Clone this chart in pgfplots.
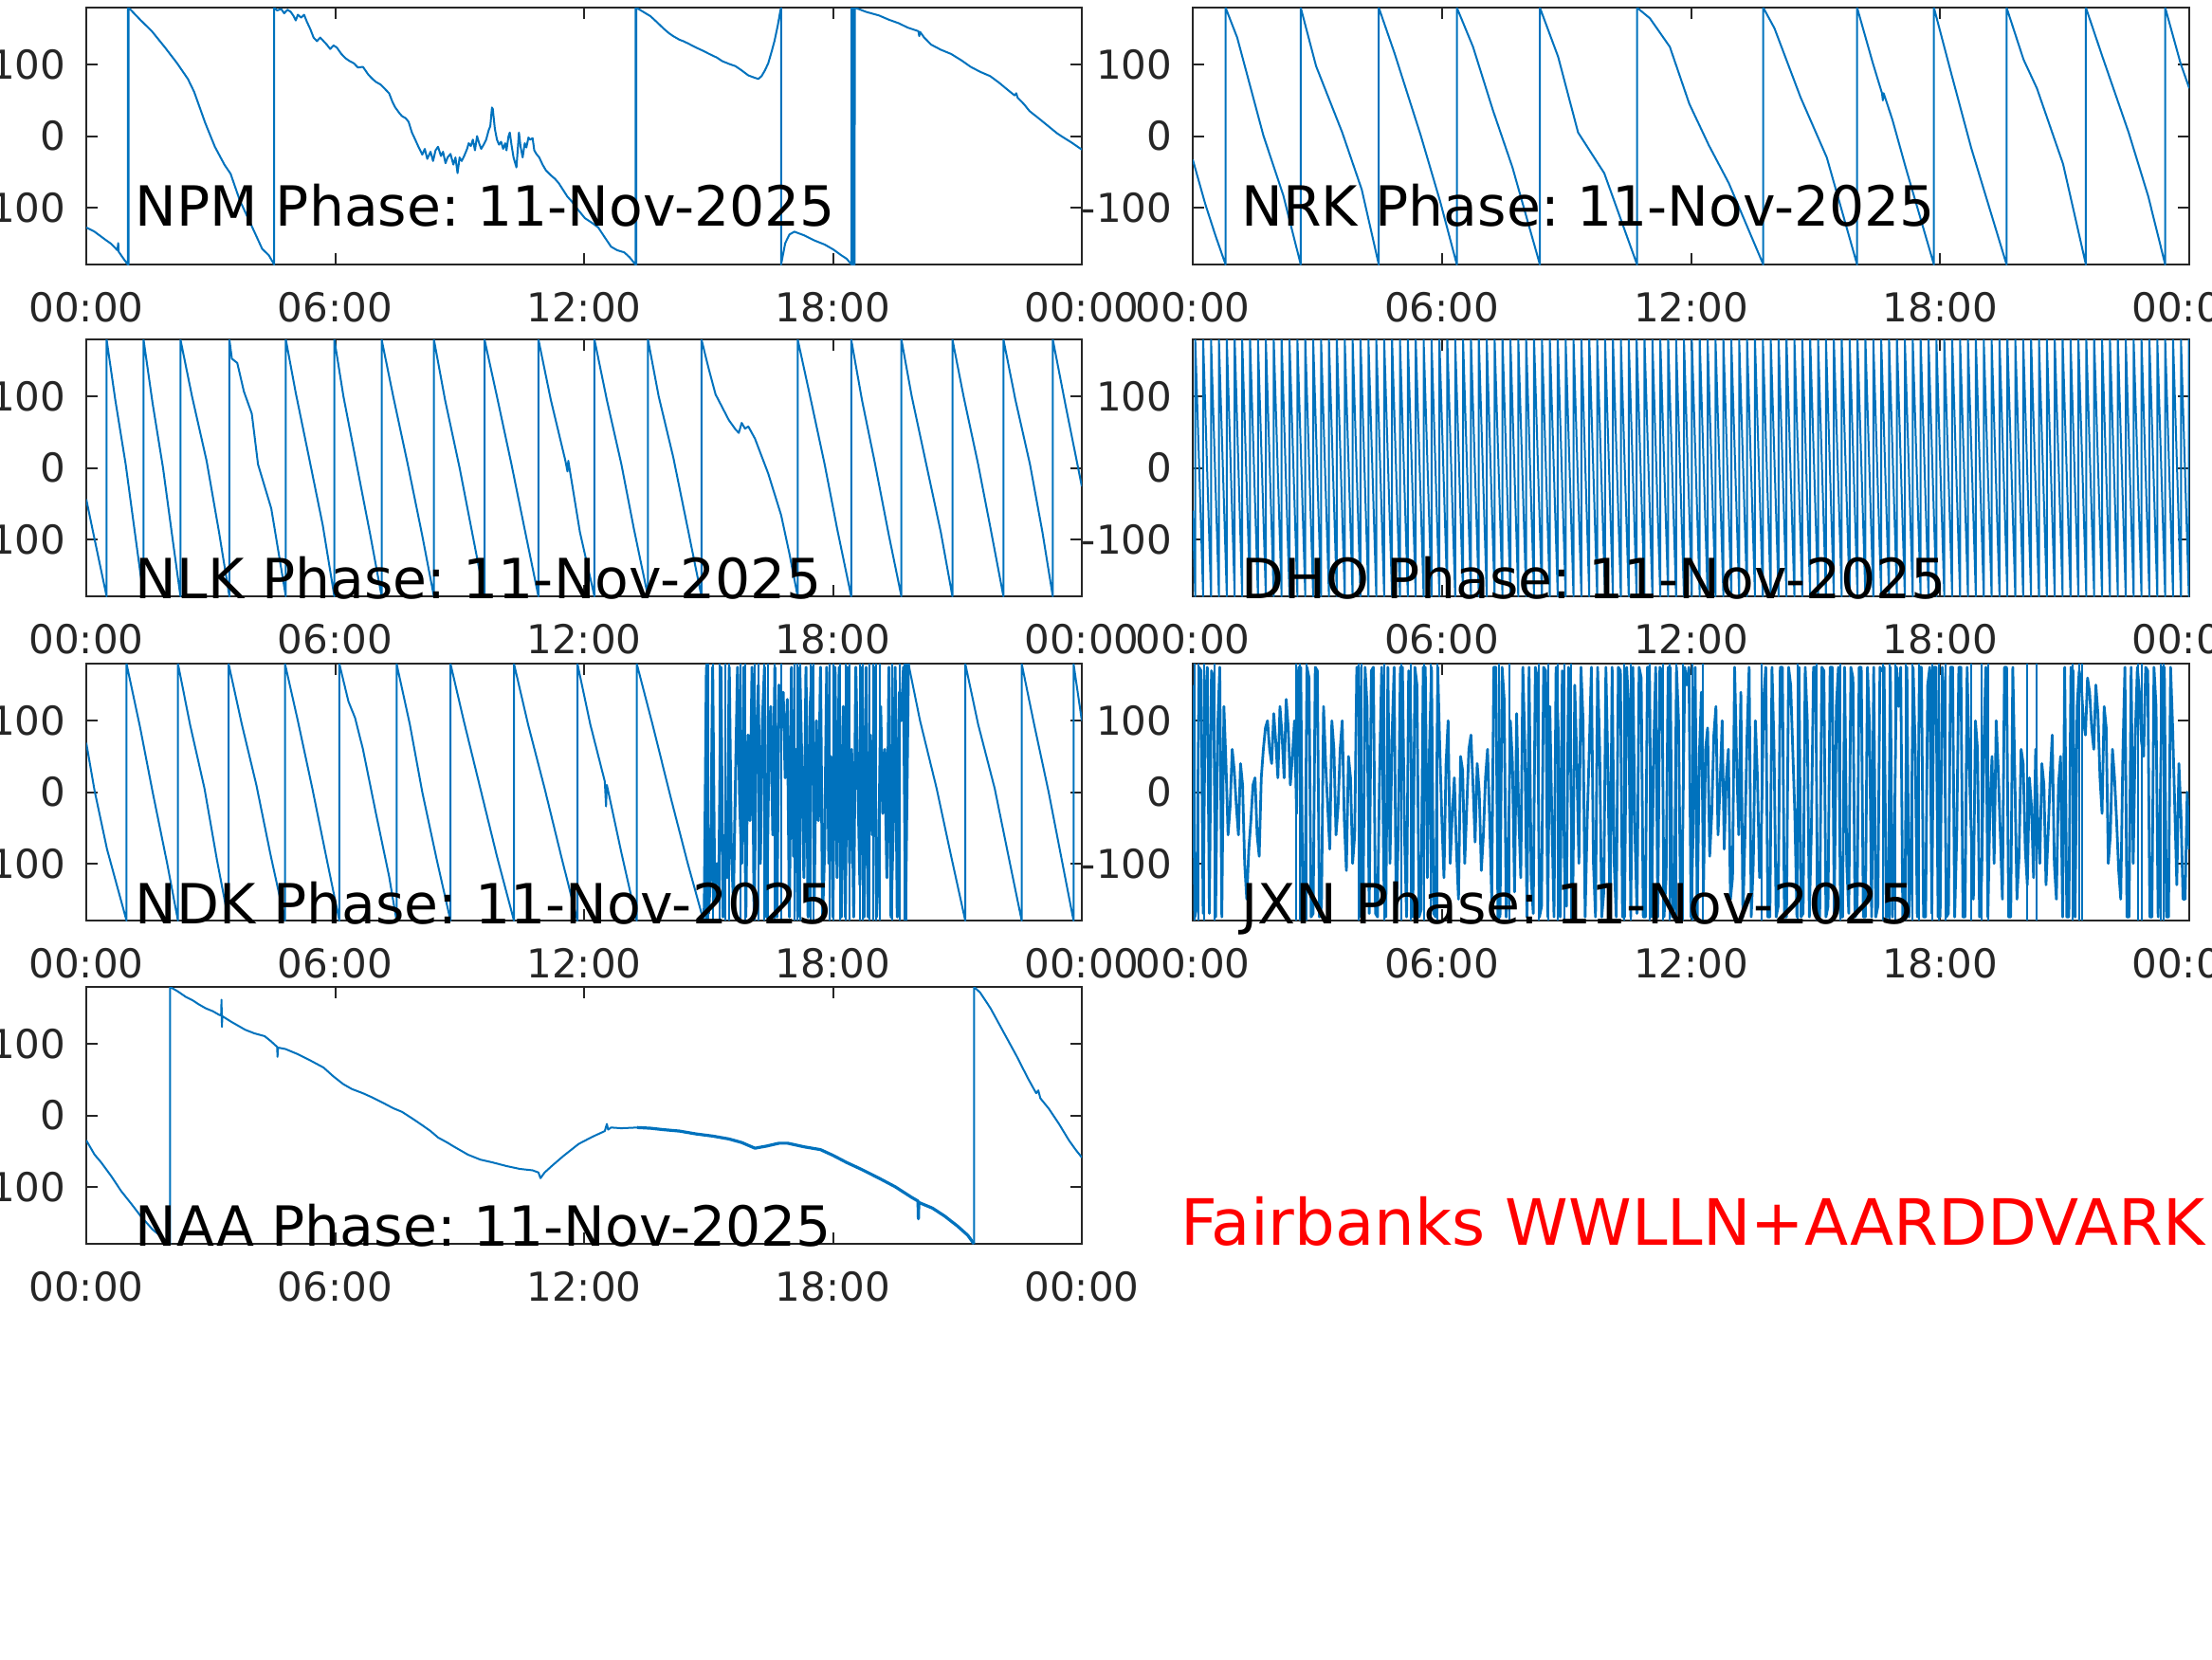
\documentclass[border=0pt]{standalone}
\usepackage{fontspec}
\setmainfont{DejaVu Sans}
\usepackage{pgfplots}
\pgfplotsset{compat=1.18}
\frenchspacing
\definecolor{mblue}{rgb}{0,0.447,0.741}
\definecolor{mgray}{rgb}{0.15,0.15,0.15}
\tikzset{ttl/.style={anchor=base west, inner sep=0pt, font=\fontsize{14.6}{17}\selectfont, text=black}}
\pgfplotsset{
 phase/.style={
  scale only axis, height=67.75pt, anchor=north west,
  xmin=0, xmax=24, ymin=-180, ymax=180,
  xtick={0,6,12,18,24}, xticklabels={00:00,06:00,12:00,18:00,00:00},
  ytick={-100,0,100}, yticklabels={-100,0,100},
  minor tick num=0,
  tick align=inside, major tick length=3pt,
  axis line style={mgray, line width=0.5pt},
  every tick/.style={mgray, line width=0.5pt},
  tick label style={font=\fontsize{10.5}{12}\selectfont, text=mgray},
  xticklabel style={anchor=north, inner sep=0pt, yshift=-7.25pt},
  yticklabel style={anchor=east, inner sep=0pt, xshift=-5.25pt},
  clip mode=individual,
 },
 lcol/.style={phase, width=262.5pt},
 rcol/.style={phase, width=262.75pt},
 ph/.style={mblue, line width=0.5pt, mark=none, line join=round},
 wr/.style={mblue, line width=0.5pt, mark=none, unbounded coords=jump},
}
\begin{document}
\begin{tikzpicture}
\useasboundingbox (0,0) rectangle (583.25pt,-437.5pt);
\clip (0,0) rectangle (583.25pt,-437.5pt);

% ---------------- NPM ----------------
\begin{axis}[lcol, at={(22.75pt,-2pt)}]
\addplot[ph] coordinates {
(0,-128)(0.2,-134)(0.43,-144)(0.6,-151)(0.75,-160)(0.77,-150)(0.78,-162)(0.9,-172)(1.0,-180)(1.0,180)(1.02,-180)(1.02,180)
(1.3,163)(1.58,147)(1.9,124)(2.19,102)(2.45,80)(2.6,62)(2.87,18)(3.1,-15)(3.33,-40)(3.48,-53)(3.7,-90)(3.94,-120)(4.24,-158)(4.4,-167)(4.53,-180)(4.53,180)
(4.6,176)(4.7,178)(4.77,172)(4.85,177)(4.93,174)(5.0,168)(5.05,162)(5.1,170)(5.18,166)(5.25,170)(5.32,160)(5.4,150)(5.48,138)(5.56,133)(5.64,138)(5.72,133)(5.8,128)(5.88,122)(5.96,127)(6.04,124)(6.15,115)(6.25,109)(6.35,105)(6.45,102)(6.55,96)(6.67,97)(6.8,86)(6.9,80)(6.98,76)(7.1,72)(7.2,66)(7.3,60)(7.38,48)(7.45,40)(7.55,32)(7.61,28)(7.7,25)(7.77,20)(7.85,5)(7.93,-5)(8.0,-14)(8.05,-20)(8.1,-26)(8.16,-18)(8.22,-32)(8.3,-22)(8.36,-35)(8.42,-20)(8.48,-15)(8.55,-28)(8.6,-22)(8.66,-38)(8.71,-30)(8.78,-25)(8.85,-40)(8.9,-30)(8.95,-52)(9.0,-30)(9.05,-35)(9.11,-28)(9.18,-18)(9.22,-10)(9.27,-14)(9.32,-5)(9.37,-20)(9.42,0)(9.47,-10)(9.52,-18)(9.58,-12)(9.64,-5)(9.7,8)(9.74,14)(9.78,40)(9.8,38)(9.85,10)(9.9,-5)(9.95,-12)(10.0,-8)(10.05,-18)(10.1,-10)(10.13,-20)(10.18,0)(10.21,5)(10.25,-12)(10.3,-30)(10.37,-44)(10.4,-20)(10.43,5)(10.47,-15)(10.52,-30)(10.57,-10)(10.61,-16)(10.66,-2)(10.7,-5)(10.76,-3)(10.8,-20)(10.85,-25)(10.92,-30)(11.0,-40)(11.08,-48)(11.2,-55)(11.3,-60)(11.39,-66)(11.5,-76)(11.6,-85)(11.71,-92)(11.85,-103)(12.02,-115)(12.2,-122)(12.34,-128)(12.5,-142)(12.65,-155)(12.8,-160)(12.97,-163)(13.1,-170)(13.24,-180)(13.24,180)(13.26,-180)(13.26,180)
(13.4,175)(13.6,168)(13.75,160)(13.91,151)(14.05,144)(14.15,140)(14.3,135)(14.39,133)(14.5,130)(14.7,124)(14.85,120)(15.02,115)(15.2,110)(15.33,105)(15.5,101)(15.65,98)(15.8,92)(15.96,85)(16.1,82)(16.2,80)(16.28,84)(16.36,92)(16.44,102)(16.52,118)(16.59,133)(16.67,155)(16.73,175)(16.75,180)(16.75,-180)
(16.85,-150)(16.95,-138)(17.07,-134)(17.3,-139)(17.54,-146)(17.8,-152)(18.01,-159)(18.2,-167)(18.33,-172)(18.45,-180)(18.45,180)(18.46,-180)(18.47,180)(18.48,-180)(18.49,180)(18.5,-180)(18.51,180)(18.52,-180)(18.53,180)
(18.8,174)(19.11,169)(19.35,163)(19.59,158)(19.8,152)(20.06,147)(20.08,140)(20.1,146)(20.2,138)(20.37,128)(20.6,121)(20.85,115)(21.1,106)(21.32,97)(21.55,90)(21.79,84)(22.0,75)(22.27,62)(22.38,57)(22.42,60)(22.45,54)(22.6,45)(22.74,35)(23.0,23)(23.21,13)(23.4,4)(23.53,-1)(23.75,-9)(23.9,-15)(24,-19)
};
\node[ttl] at (axis cs:1.17,-126) {NPM Phase: 11-Nov-2025};
\end{axis}

% ---------------- NRK ----------------
\begin{axis}[rcol, at={(314.5pt,-2pt)}]
\addplot[ph] coordinates {
(0,-33)(0.3,-95)(0.55,-140)(0.79,-180)(0.79,180)(1.07,138)(1.70,1)(2.18,-83)(2.60,-180)(2.60,180)(2.97,98)(3.60,5)(4.07,-75)(4.48,-180)(4.48,180)(4.86,116)(5.49,1)(5.96,-92)(6.36,-180)(6.36,180)(6.75,125)(7.23,36)(7.70,-44)(8.36,-180)(8.36,180)(8.80,111)(9.28,5)(9.91,-52)(10.70,-180)(10.70,180)(11.01,165)(11.49,125)(11.96,45)(12.43,-13)(12.91,-66)(13.74,-180)(13.74,180)(14.01,151)(14.64,54)(15.27,-30)(16.0,-180)(16.0,180)(16.38,102)(16.6,60)(16.62,50)(16.64,60)(16.85,23)(17.17,-44)(17.85,-180)(17.85,180)(18.28,85)(18.75,-17)(19.60,-180)(19.60,180)(20.01,107)(20.33,67)(20.96,-39)(21.51,-180)(21.51,180)(21.91,111)(22.54,5)(23.01,-84)(23.42,-180)(23.42,180)(23.79,102)(24,67)
};
\node[ttl] at (axis cs:1.16,-126) {NRK Phase: 11-Nov-2025};
\end{axis}

% ---------------- NLK ----------------
\begin{axis}[lcol, at={(22.75pt,-89.5pt)}]
\addplot[ph] coordinates {
(0,-44)(0.2,-100)(0.49,-180)(0.49,180)(0.7,95)(0.95,5)(1.17,-90)(1.38,-180)(1.38,180)(1.6,90)(1.85,0)(2.07,-95)(2.27,-180)(2.27,180)(2.55,100)(2.9,10)(3.2,-90)(3.45,-180)(3.45,180)(3.51,153)(3.64,147)(3.80,107)(3.99,76)(4.14,5)(4.46,-57)(4.81,-180)(4.81,180)(5.05,105)(5.35,20)(5.7,-80)(5.98,-180)(5.98,180)(6.2,100)(6.5,10)(6.85,-95)(7.12,-180)(7.12,180)(7.4,100)(7.75,5)(8.1,-95)(8.38,-180)(8.38,180)(8.65,95)(9.0,0)(9.3,-90)(9.60,-180)(9.60,180)(9.9,100)(10.25,5)(10.6,-95)(10.90,-180)(10.90,180)(11.2,95)(11.55,10)(11.6,-5)(11.62,10)(11.9,-90)(12.25,-180)(12.25,180)(12.55,95)(12.9,5)(13.2,-85)(13.54,-180)(13.54,180)(13.8,100)(14.15,15)(14.5,-85)(14.83,-180)(14.83,180)(15.0,140)(15.17,103)(15.49,67)(15.65,54)(15.73,49)(15.8,63)(15.88,55)(15.96,58)(16.12,41)(16.44,-8)(16.75,-66)(16.95,-120)(17.15,-180)(17.15,180)(17.45,100)(17.8,5)(18.1,-85)(18.44,-180)(18.44,180)(18.7,95)(19.0,10)(19.35,-95)(19.65,-180)(19.65,180)(19.9,100)(20.25,5)(20.6,-90)(20.88,-180)(20.88,180)(21.15,100)(21.5,5)(21.8,-85)(22.11,-180)(22.11,180)(22.4,95)(22.75,5)(23.05,-90)(23.30,-180)(23.30,180)(23.6,90)(24,-26)
};
\node[ttl] at (axis cs:1.17,-183) {NLK Phase: 11-Nov-2025};
\end{axis}

% ---------------- DHO ----------------
\begin{axis}[rcol, at={(314.5pt,-89.5pt)}]
\addplot[ph] coordinates {
(0,-60)
(0.06,-180)(0.06,180)(0.25,-180)(0.25,180)(0.44,-180)(0.44,180)(0.63,-180)(0.63,180)(0.82,-180)(0.82,180)(1.01,-180)(1.01,180)(1.19,-180)(1.19,180)(1.38,-180)(1.38,180)(1.57,-180)(1.57,180)(1.76,-180)(1.76,180)
(1.95,-180)(1.95,180)(2.14,-180)(2.14,180)(2.33,-180)(2.33,180)(2.52,-180)(2.52,180)(2.71,-180)(2.71,180)(2.90,-180)(2.90,180)(3.09,-180)(3.09,180)(3.28,-180)(3.28,180)(3.47,-180)(3.47,180)(3.66,-180)(3.66,180)
(3.85,-180)(3.85,180)(4.04,-180)(4.04,180)(4.23,-180)(4.23,180)(4.42,-180)(4.42,180)(4.61,-180)(4.61,180)(4.80,-180)(4.80,180)(4.99,-180)(4.99,180)(5.18,-180)(5.18,180)(5.37,-180)(5.37,180)(5.56,-180)(5.56,180)
(5.75,-180)(5.75,180)(5.94,-180)(5.94,180)(6.13,-180)(6.13,180)(6.32,-180)(6.32,180)(6.51,-180)(6.51,180)(6.70,-180)(6.70,180)(6.89,-180)(6.89,180)(7.08,-180)(7.08,180)(7.27,-180)(7.27,180)(7.46,-180)(7.46,180)
(7.65,-180)(7.65,180)(7.84,-180)(7.84,180)(8.03,-180)(8.03,180)(8.22,-180)(8.22,180)(8.41,-180)(8.41,180)(8.60,-180)(8.60,180)(8.79,-180)(8.79,180)(8.98,-180)(8.98,180)(9.17,-180)(9.17,180)(9.36,-180)(9.36,180)
(9.55,-180)(9.55,180)(9.74,-180)(9.74,180)(9.93,-180)(9.93,180)(10.12,-180)(10.12,180)(10.31,-180)(10.31,180)(10.50,-180)(10.50,180)(10.69,-180)(10.69,180)(10.88,-180)(10.88,180)(11.07,-180)(11.07,180)(11.26,-180)(11.26,180)
(11.45,-180)(11.45,180)(11.64,-180)(11.64,180)(11.83,-180)(11.83,180)(12.02,-180)(12.02,180)(12.21,-180)(12.21,180)(12.40,-180)(12.40,180)(12.59,-180)(12.59,180)(12.78,-180)(12.78,180)(12.97,-180)(12.97,180)(13.16,-180)(13.16,180)
(13.35,-180)(13.35,180)(13.54,-180)(13.54,180)(13.73,-180)(13.73,180)(13.92,-180)(13.92,180)(14.11,-180)(14.11,180)(14.30,-180)(14.30,180)(14.49,-180)(14.49,180)(14.68,-180)(14.68,180)(14.87,-180)(14.87,180)(15.06,-180)(15.06,180)
(15.25,-180)(15.25,180)(15.44,-180)(15.44,180)(15.63,-180)(15.63,180)(15.82,-180)(15.82,180)(16.01,-180)(16.01,180)(16.20,-180)(16.20,180)(16.39,-180)(16.39,180)(16.58,-180)(16.58,180)(16.77,-180)(16.77,180)(16.96,-180)(16.96,180)
(17.15,-180)(17.15,180)(17.34,-180)(17.34,180)(17.53,-180)(17.53,180)(17.72,-180)(17.72,180)(17.91,-180)(17.91,180)(18.10,-180)(18.10,180)(18.29,-180)(18.29,180)(18.48,-180)(18.48,180)(18.67,-180)(18.67,180)(18.86,-180)(18.86,180)
(19.05,-180)(19.05,180)(19.24,-180)(19.24,180)(19.43,-180)(19.43,180)(19.62,-180)(19.62,180)(19.81,-180)(19.81,180)(20.00,-180)(20.00,180)(20.19,-180)(20.19,180)(20.38,-180)(20.38,180)(20.57,-180)(20.57,180)(20.76,-180)(20.76,180)
(20.95,-180)(20.95,180)(21.14,-180)(21.14,180)(21.33,-180)(21.33,180)(21.52,-180)(21.52,180)(21.71,-180)(21.71,180)(21.90,-180)(21.90,180)(22.09,-180)(22.09,180)(22.28,-180)(22.28,180)(22.47,-180)(22.47,180)(22.66,-180)(22.66,180)
(22.85,-180)(22.85,180)(23.04,-180)(23.04,180)(23.23,-180)(23.23,180)(23.42,-180)(23.42,180)(23.61,-180)(23.61,180)(23.80,-180)(23.80,180)(23.99,-180)(23.99,180)(24,170)
};
\node[ttl] at (axis cs:1.16,-183) {DHO Phase: 11-Nov-2025};
\end{axis}

% ---------------- NDK ----------------
\begin{axis}[lcol, at={(22.75pt,-175pt)}]
\addplot[ph] coordinates {
(0,69)(0.2,2)(0.5,-80)(0.97,-180)(0.97,180)(1.3,90)(1.6,0)(1.95,-100)(2.21,-180)(2.21,180)(2.5,95)(2.85,5)(3.15,-95)(3.43,-180)(3.43,180)(3.75,95)(4.1,10)(4.45,-90)(4.79,-180)(4.79,180)(5.1,100)(5.45,5)(5.8,-95)(6.10,-180)(6.10,180)(6.32,127)(6.48,104)(6.67,60)(6.98,-29)(7.30,-118)(7.48,-180)(7.48,180)(7.8,95)(8.1,0)(8.45,-95)(8.78,-180)(8.78,180)(9.1,100)(9.5,5)(9.9,-90)(10.31,-180)(10.31,180)(10.65,95)(11.05,5)(11.45,-90)(11.84,-180)(11.84,180)(12.15,95)(12.5,15)(12.53,-20)(12.55,10)(12.9,-85)(13.27,-180)(13.27,180)(13.65,95)(14.1,-10)(14.5,-100)(14.88,-180)
};
\addplot[ph, line width=0.75pt] coordinates {
(14.88,-180)(14.90,-160)(14.95,175)(15.00,-170)(15.05,-120)(15.10,175)(15.15,-150)(15.20,-100)(15.25,-130)(15.30,175)(15.35,-175)(15.40,-60)(15.45,-120)(15.50,175)(15.55,-80)(15.60,-150)(15.70,175)(15.75,-10)(15.80,-100)(15.85,175)(15.90,-175)(15.95,80)(16.00,-40)(16.05,175)(16.10,-175)(16.15,60)(16.20,150)(16.25,-100)(16.30,100)(16.35,175)(16.40,-175)(16.45,30)(16.50,120)(16.55,-60)(16.60,175)(16.65,-175)(16.70,150)(16.75,90)(16.80,140)(16.85,20)(16.90,130)(16.95,-175)(17.00,175)(17.05,-90)(17.10,60)(17.15,-175)(17.20,175)(17.25,40)(17.30,-120)(17.35,175)(17.40,-175)(17.45,120)(17.50,175)(17.55,-150)(17.60,100)(17.65,-40)(17.70,175)(17.75,-175)(17.80,-80)(17.85,175)(17.90,-100)(17.95,50)(18.00,-175)(18.05,175)(18.10,-120)(18.15,175)(18.20,-175)(18.25,120)(18.30,-175)(18.35,175)(18.40,-100)(18.45,60)(18.50,-175)(18.55,175)(18.60,20)(18.65,-130)(18.70,175)(18.75,-175)(18.80,175)(18.85,-175)(18.90,80)(18.95,-60)(19.00,175)(19.05,-175)(19.10,-100)(19.15,120)(19.20,-30)(19.25,60)(19.30,-120)(19.35,175)(19.40,-175)(19.45,-60)(19.50,175)(19.55,-175)(19.60,140)(19.65,100)(19.70,175)(19.75,-175)(19.82,180)
};
\addplot[ph] coordinates {
(19.82,180)(20.1,100)(20.5,5)(20.85,-90)(21.19,-180)(21.19,180)(21.5,95)(21.9,5)(22.25,-95)(22.55,-180)(22.55,180)(22.85,95)(23.2,0)(23.5,-90)(23.80,-180)(23.80,180)(24,100)
};
\addplot[wr] coordinates {
(14.94,-180)(14.94,180)(14.94,nan)(14.99,-180)(14.99,180)(14.99,nan)(15.10,-180)(15.10,180)(15.10,nan)(15.26,-180)(15.26,180)(15.26,nan)(15.41,-180)(15.41,180)(15.41,nan)(15.49,-180)(15.49,180)(15.49,nan)(15.77,-180)(15.77,180)(15.77,nan)(15.88,-180)(15.88,180)(15.88,nan)(16.12,-180)(16.12,180)(16.12,nan)(16.20,-180)(16.20,180)(16.20,nan)(16.35,-180)(16.35,180)(16.35,nan)(16.43,-180)(16.43,180)(16.43,nan)(16.59,-180)(16.59,180)(16.59,nan)(16.75,-180)(16.75,180)(16.75,nan)(17.07,-180)(17.07,180)(17.07,nan)(17.14,-180)(17.14,180)(17.14,nan)(17.22,-180)(17.22,180)(17.22,nan)(17.46,-180)(17.46,180)(17.46,nan)(17.54,-180)(17.54,180)(17.54,nan)(17.93,-180)(17.93,180)(17.93,nan)(18.01,-180)(18.01,180)(18.01,nan)(18.17,-180)(18.17,180)(18.17,nan)(18.30,-180)(18.30,180)(18.30,nan)(18.41,-180)(18.41,180)(18.41,nan)(18.64,-180)(18.64,180)(18.64,nan)(18.72,-180)(18.72,180)(18.72,nan)(18.88,-180)(18.88,180)(18.88,nan)(18.96,-180)(18.96,180)(18.96,nan)(19.04,-180)(19.04,180)(19.04,nan)(19.12,-180)(19.12,180)(19.12,nan)(19.43,-180)(19.43,180)(19.43,nan)(19.62,-180)(19.62,180)(19.62,nan)(19.72,-180)(19.72,180)(19.72,nan)(19.78,-180)(19.78,180)
};
\node[ttl] at (axis cs:1.17,-184) {NDK Phase: 11-Nov-2025};
\end{axis}

% ---------------- JXN ----------------
\begin{axis}[rcol, at={(314.5pt,-175pt)}]
\addplot[ph, line width=0.7pt] coordinates {
(0.00,150)(0.05,-175)(0.10,-160)(0.15,175)(0.20,170)(0.25,-170)(0.30,120)(0.35,175)(0.40,-170)(0.45,170)(0.50,160)(0.55,-175)(0.60,90)(0.65,175)(0.70,-175)(0.75,120)(0.80,40)(0.85,-60)(0.90,-20)(0.95,60)
(1.00,30)(1.05,-20)(1.10,-60)(1.15,40)(1.20,10)(1.25,-100)(1.30,-150)(1.35,-80)(1.40,-40)(1.45,10)(1.50,20)(1.55,-60)(1.60,-90)(1.65,20)(1.70,60)(1.75,90)(1.80,100)(1.85,60)(1.90,40)(1.95,110)
(2.00,70)(2.05,20)(2.10,120)(2.15,80)(2.20,20)(2.25,130)(2.30,90)(2.35,10)(2.40,50)(2.45,100)(2.50,-30)(2.55,175)(2.60,175)(2.65,-170)(2.70,-175)(2.75,175)(2.80,160)(2.85,-175)(2.90,-170)(2.95,175)
(3.00,170)(3.05,-175)(3.10,-160)(3.15,120)(3.20,40)(3.25,-20)(3.30,-80)(3.35,100)(3.40,60)(3.45,-60)(3.50,-20)(3.55,60)(3.60,100)(3.65,-40)(3.70,-110)(3.75,50)(3.80,20)(3.85,-100)(3.90,-60)(3.95,175)
(4.00,175)(4.05,-175)(4.10,-175)(4.15,175)(4.20,120)(4.25,-170)(4.30,170)(4.35,175)(4.40,-170)(4.45,-175)(4.50,30)(4.55,175)(4.60,-120)(4.65,-175)(4.70,175)(4.75,-100)(4.80,80)(4.85,175)(4.90,-175)(4.95,-60)
(5.00,175)(5.05,175)(5.10,-60)(5.15,-175)(5.20,170)(5.25,100)(5.30,-175)(5.35,175)(5.40,150)(5.45,-175)(5.50,-165)(5.55,175)(5.60,175)(5.65,-120)(5.70,60)(5.75,175)(5.80,-170)(5.85,-175)(5.90,175)(5.95,60)
(6.00,-40)(6.05,-120)(6.10,40)(6.15,100)(6.20,-100)(6.25,-30)(6.30,20)(6.35,-80)(6.40,-150)(6.45,50)(6.50,30)(6.55,-100)(6.60,-20)(6.65,60)(6.70,80)(6.75,10)(6.80,-70)(6.85,40)(6.90,0)(6.95,-110)
(7.00,-60)(7.05,20)(7.10,60)(7.15,-40)(7.20,-150)(7.25,175)(7.30,175)(7.35,-175)(7.40,-175)(7.45,175)(7.50,130)(7.55,-175)(7.60,-90)(7.65,100)(7.70,40)(7.75,-140)(7.80,110)(7.85,-30)(7.90,-120)(7.95,175)
(8.00,60)(8.05,-175)(8.10,175)(8.15,-120)(8.20,-170)(8.25,175)(8.30,160)(8.35,-175)(8.40,-160)(8.45,175)(8.50,170)(8.55,-175)(8.60,120)(8.65,-40)(8.70,-175)(8.75,175)(8.80,90)(8.85,-175)(8.90,170)(8.95,-100)
(9.00,-160)(9.05,175)(9.10,40)(9.15,-175)(9.20,150)(9.25,40)(9.30,-100)(9.35,175)(9.40,100)(9.45,-175)(9.50,-40)(9.55,60)(9.60,175)(9.65,-100)(9.70,-175)(9.75,175)(9.80,60)(9.85,-175)(9.90,-140)(9.95,175)
(10.00,30)(10.05,-175)(10.10,175)(10.15,-100)(10.20,-175)(10.25,175)(10.30,170)(10.35,-175)(10.40,-175)(10.45,175)(10.50,120)(10.55,-175)(10.60,175)(10.65,-60)(10.70,-170)(10.75,175)(10.80,160)(10.85,-175)(10.90,-175)(10.95,175)
(11.00,175)(11.05,-175)(11.10,60)(11.15,175)(11.20,-175)(11.25,175)(11.30,170)(11.35,-175)(11.40,-120)(11.45,175)(11.50,175)(11.55,-175)(11.60,-160)(11.65,175)(11.70,100)(11.75,-175)(11.80,-60)(11.85,175)(11.90,150)(11.95,175)
(12.00,-175)(12.05,-60)(12.10,175)(12.15,-175)(12.20,50)(12.25,140)(12.30,-140)(12.35,60)(12.40,90)(12.45,-90)(12.50,-30)(12.55,80)(12.60,120)(12.65,-60)(12.70,10)(12.75,100)(12.80,-80)(12.85,20)(12.90,60)(12.95,-150)
(13.00,-120)(13.05,175)(13.10,40)(13.15,-60)(13.20,140)(13.25,-175)(13.30,-60)(13.35,80)(13.40,175)(13.45,-175)(13.50,-100)(13.55,100)(13.60,20)(13.65,-120)(13.70,-40)(13.75,130)(13.80,175)(13.85,-175)(13.90,-175)(13.95,175)
(14.00,60)(14.05,-175)(14.10,-160)(14.15,175)(14.20,175)(14.25,-175)(14.30,-175)(14.35,175)(14.40,150)(14.45,60)(14.50,-30)(14.55,-175)(14.60,175)(14.65,-175)(14.70,-170)(14.75,175)(14.80,100)(14.85,-175)(14.90,-50)(14.95,175)
(15.00,175)(15.05,-175)(15.10,-175)(15.15,175)(15.20,170)(15.25,-175)(15.30,-160)(15.35,175)(15.40,175)(15.45,-175)(15.50,120)(15.55,175)(15.60,-175)(15.65,-175)(15.70,175)(15.75,-100)(15.80,-170)(15.85,175)(15.90,160)(15.95,-175)
(16.00,-170)(16.05,175)(16.10,175)(16.15,-175)(16.20,-175)(16.25,175)(16.30,90)(16.35,-175)(16.40,175)(16.45,-175)(16.50,-160)(16.55,175)(16.60,170)(16.65,175)(16.70,-175)(16.75,-175)(16.80,175)(16.85,-175)(16.90,-60)(16.95,175)
(17.00,120)(17.05,175)(17.10,-175)(17.15,-175)(17.20,175)(17.25,-175)(17.30,-100)(17.35,175)(17.40,60)(17.45,-175)(17.50,175)(17.55,175)(17.60,-175)(17.65,-175)(17.70,150)(17.75,175)(17.80,-170)(17.85,175)(17.90,175)(17.95,-175)
(18.00,-175)(18.05,175)(18.10,130)(18.15,-175)(18.20,-170)(18.25,175)(18.30,175)(18.35,-175)(18.40,-60)(18.45,175)(18.50,175)(18.55,-175)(18.60,-175)(18.65,175)(18.70,40)(18.75,-60)(18.80,-150)(18.85,100)(18.90,60)(18.95,-175)
(19.00,-120)(19.05,60)(19.10,175)(19.15,-175)(19.20,-20)(19.25,50)(19.30,-100)(19.35,100)(19.40,30)(19.45,-60)(19.50,-150)(19.55,175)(19.60,175)(19.65,-175)(19.70,-175)(19.75,175)(19.80,20)(19.85,-150)(19.90,-90)(19.95,60)
(20.00,40)(20.05,-80)(20.10,-130)(20.15,20)(20.20,-20)(20.25,-120)(20.30,60)(20.35,-40)(20.40,-100)(20.45,40)(20.50,10)(20.55,-130)(20.60,-60)(20.65,20)(20.70,80)(20.75,-100)(20.80,-150)(20.85,10)(20.90,50)(20.95,-175)
(21.00,175)(21.05,-175)(21.10,-175)(21.15,175)(21.20,170)(21.25,-175)(21.30,120)(21.35,170)(21.40,150)(21.45,100)(21.50,80)(21.55,160)(21.60,140)(21.65,90)(21.70,60)(21.75,150)(21.80,110)(21.85,20)(21.90,-30)(21.95,120)
(22.00,90)(22.05,-100)(22.10,-60)(22.15,60)(22.20,20)(22.25,-40)(22.30,-110)(22.35,-150)(22.40,50)(22.45,175)(22.50,-175)(22.55,-175)(22.60,175)(22.65,-100)(22.70,80)(22.75,175)(22.80,140)(22.85,70)(22.90,50)(22.95,175)
(23.00,170)(23.05,-175)(23.10,-175)(23.15,175)(23.20,120)(23.25,-175)(23.30,-20)(23.35,175)(23.40,175)(23.45,-175)(23.50,-175)(23.55,175)(23.60,90)(23.65,-20)(23.70,-130)(23.75,40)(23.80,-30)(23.85,-150)(23.90,-150)(23.95,0)
(24.00,-80)
};
\addplot[wr] coordinates {
(0.05,-180)(0.05,180)(0.05,nan)(0.13,-180)(0.13,180)(0.13,nan)(0.28,-180)(0.28,180)(0.28,nan)(0.52,-180)(0.52,180)(0.52,nan)(2.49,-180)(2.49,180)(2.49,nan)(2.57,-180)(2.57,180)(2.57,nan)(2.73,-180)(2.73,180)(2.73,nan)(3.99,-180)(3.99,180)(3.99,nan)(4.07,-180)(4.07,180)(4.07,nan)(4.62,-180)(4.62,180)(4.62,nan)(5.02,-180)(5.02,180)(5.02,nan)(5.25,-180)(5.25,180)(5.25,nan)(5.57,-180)(5.57,180)(5.57,nan)(5.73,-180)(5.73,180)(5.73,nan)(5.88,-180)(5.88,180)(5.88,nan)(7.38,-180)(7.38,180)(7.38,nan)(7.62,-180)(7.62,180)(7.62,nan)(8.33,-180)(8.33,180)(8.33,nan)(8.57,-180)(8.57,180)(8.57,nan)(8.80,-180)(8.80,180)(8.80,nan)(8.96,-180)(8.96,180)(8.96,nan)(9.12,-180)(9.12,180)(9.12,nan)(10.38,-180)(10.38,180)(10.38,nan)(10.54,-180)(10.54,180)(10.54,nan)(11.01,-180)(11.01,180)(11.01,nan)(11.33,-180)(11.33,180)(11.33,nan)(11.49,-180)(11.49,180)(11.49,nan)(11.65,-180)(11.65,180)(11.65,nan)(11.80,-180)(11.80,180)(11.80,nan)(12.04,-180)(12.04,180)(12.04,nan)(12.28,-180)(12.28,180)(12.28,nan)(13.69,-180)(13.69,180)(13.69,nan)(14.56,-180)(14.56,180)(14.56,nan)(15.03,-180)(15.03,180)(15.03,nan)(15.59,-180)(15.59,180)(15.59,nan)(16.62,-180)(16.62,180)(16.62,nan)(16.78,-180)(16.78,180)(16.78,nan)(16.93,-180)(16.93,180)(16.93,nan)(17.17,-180)(17.17,180)(17.17,nan)(17.33,-180)(17.33,180)(17.33,nan)(17.48,-180)(17.48,180)(17.48,nan)(17.80,-180)(17.80,180)(17.80,nan)(17.96,-180)(17.96,180)(17.96,nan)(18.12,-180)(18.12,180)(18.12,nan)(18.75,-180)(18.75,180)(18.75,nan)(18.99,-180)(18.99,180)(18.99,nan)(19.15,-180)(19.15,180)(19.15,nan)(20.09,-180)(20.09,180)(20.09,nan)(20.33,-180)(20.33,180)(20.33,nan)(21.19,-180)(21.19,180)(21.19,nan)(21.35,-180)(21.35,180)(21.35,nan)(21.43,-180)(21.43,180)(21.43,nan)(22.77,-180)(22.77,180)(22.77,nan)(22.85,-180)(22.85,180)(22.85,nan)(23.31,-180)(23.31,180)(23.31,nan)(23.39,-180)(23.39,180)
};
\node[ttl] at (axis cs:1.16,-184) {JXN Phase: 11-Nov-2025};
\end{axis}

% ---------------- NAA ----------------
\begin{axis}[lcol, at={(22.75pt,-260.25pt)}]
\addplot[ph] coordinates {
(0,-35)(0.2,-55)(0.36,-66)(0.6,-85)(0.84,-106)(1.1,-125)(1.31,-141)(1.6,-160)(1.85,-172)(2.02,-180)(2.02,180)
(2.2,174)(2.4,166)(2.57,161)(2.7,156)(2.88,150)(3.05,146)(3.2,141)(3.25,140)(3.26,162)(3.27,124)(3.28,139)(3.5,131)(3.83,120)(4.05,115)(4.30,111)(4.45,104)(4.60,96)(4.61,82)(4.62,95)(4.8,93)(5.09,86)(5.4,77)(5.72,67)(5.95,55)(6.19,44)(6.4,37)(6.67,31)(6.9,25)(7.14,18)(7.4,10)(7.61,5)(7.85,-4)(8.08,-13)(8.3,-22)(8.48,-31)(8.7,-38)(8.87,-44)(9.2,-55)(9.5,-62)(9.8,-66)(10.13,-71)(10.45,-75)(10.76,-77)(10.9,-80)(10.95,-88)(11.05,-80)(11.24,-70)(11.5,-57)(11.87,-40)(12.2,-30)(12.5,-22)(12.55,-12)(12.58,-20)(12.65,-17)(12.9,-18)(13.28,-17)
};
\addplot[ph, line width=0.8pt] coordinates {
(13.28,-17)(13.6,-18)(13.91,-20)(14.3,-22)(14.70,-26)(15.1,-29)(15.49,-33)(15.8,-38)(16.12,-46)(16.4,-43)(16.7,-39)(16.91,-39)(17.3,-44)(17.70,-48)(18.0,-56)(18.33,-66)(18.7,-76)(19.11,-88)(19.5,-100)(19.9,-115)(20.05,-120)(20.06,-145)(20.07,-122)(20.4,-130)(20.69,-141)(21.0,-155)(21.25,-168)(21.4,-180)
};
\addplot[ph] coordinates {
(21.4,-180)(21.4,180)(21.55,172)(21.8,150)(22.1,118)(22.42,84)(22.7,52)(22.9,31)(22.95,35)(23.0,24)(23.21,9)(23.45,-12)(23.69,-35)(23.85,-48)(24,-59)
};
\node[ttl] at (axis cs:1.17,-183) {NAA Phase: 11-Nov-2025};
\end{axis}

\node[anchor=base west, inner sep=0pt, text=red, font=\fontsize{16.85}{20}\selectfont] at (311.1pt,-328.25pt) {Fairbanks WWLLN+AARDDVARK};
\end{tikzpicture}
\end{document}
